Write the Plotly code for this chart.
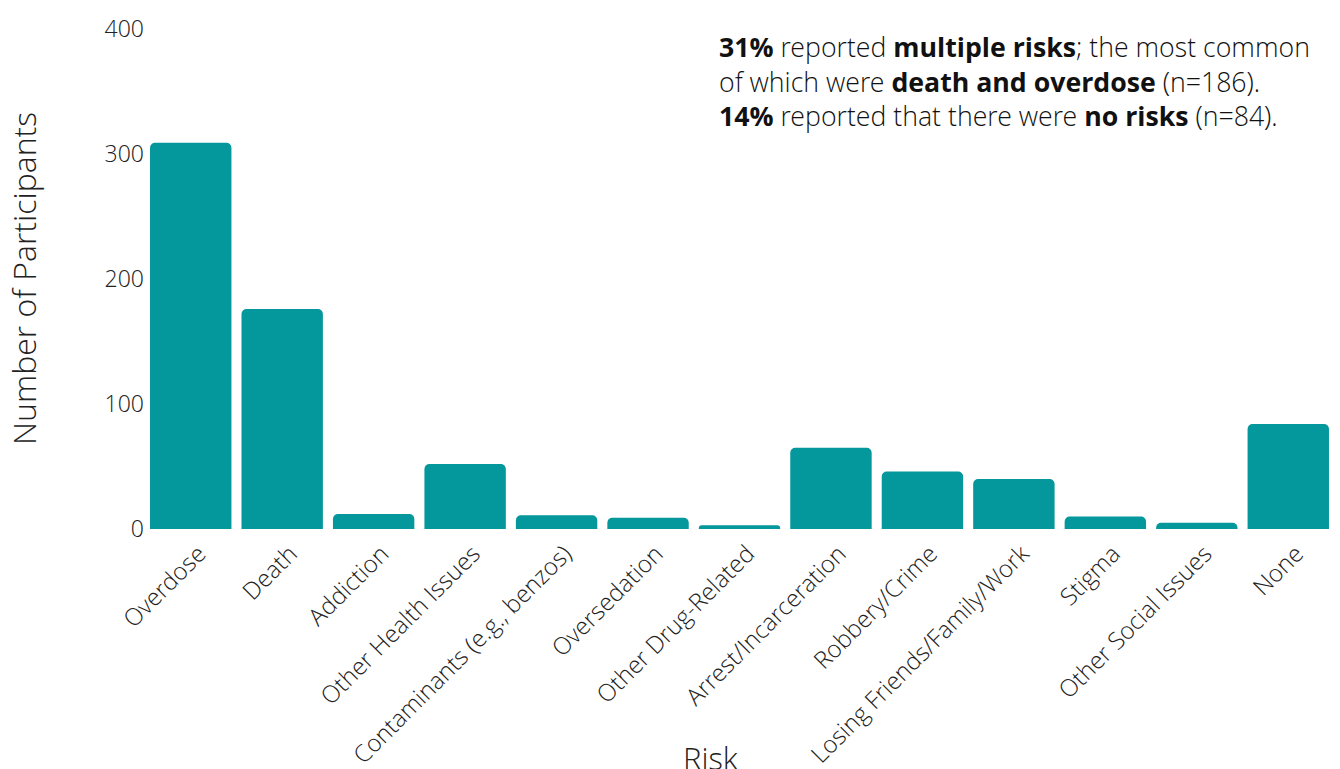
import plotly.graph_objects as go

categories = ["Overdose", "Death", "Addiction", "Other Health Issues",
              "Contaminants (e.g., benzos)", "Oversedation", "Other Drug-Related",
              "Arrest/Incarceration", "Robbery/Crime", "Losing Friends/Family/Work",
              "Stigma", "Other Social Issues", "None"]
counts = [309, 176, 12, 52, 11, 9, 3, 65, 46, 40, 10, 5, 84]
y_ticks = [0, 100, 200, 300, 400]

teal = "#04979b"
font_family = "Open Sans Light, Open Sans"


def bold(s):
    return '<span style="font-family:Open Sans;font-weight:700">' + s + '</span>'


note = (bold("31%") + " reported " + bold("multiple risks") + "; the most common<br>"
        "of which were " + bold("death and overdose") + " (n=186).<br>"
        + bold("14%") + " reported that there were " + bold("no risks") + " (n=84).")

fig = go.Figure(go.Bar(x=categories, y=counts, marker=dict(color=teal, line=dict(width=0)),
                       hoverinfo="x+y"))

fig.update_layout(
    width=1340, height=769,
    margin=dict(l=137, r=14, t=21, b=248),
    paper_bgcolor="white", plot_bgcolor="white",
    bargap=0.11, barcornerradius=5,
    font=dict(family=font_family, color="#222", size=22, weight=300),
    showlegend=False,
    xaxis=dict(automargin=False, tickangle=-45, tickfont=dict(size=24, weight=300),
               ticklabelshift=8, ticklabelstandoff=5,
               showgrid=False, showline=False, ticks=""),
    yaxis=dict(automargin=False, range=[0, 400], tickvals=y_ticks,
               tickfont=dict(size=23, weight=300),
               showgrid=False, zeroline=False, showline=False, ticks=""),
    annotations=[
        dict(text=note, xref="paper", yref="paper", x=0.4812, y=1.006,
             xanchor="left", yanchor="top", align="left", showarrow=False,
             font=dict(size=26.7, family=font_family, color="#111", weight=300)),
        dict(text="Number of Participants", xref="paper", yref="paper", x=0, y=0.5,
             xshift=-122, textangle=-90, xanchor="center", yanchor="middle",
             showarrow=False, font=dict(size=32, family=font_family, color="#222", weight=300)),
        dict(text="Risk", xref="paper", yref="paper", x=0.4754, y=0, yshift=-229,
             xanchor="center", yanchor="middle", showarrow=False,
             font=dict(size=31, family=font_family, color="#222", weight=300)),
    ],
)

fig.write_html("out.html")
